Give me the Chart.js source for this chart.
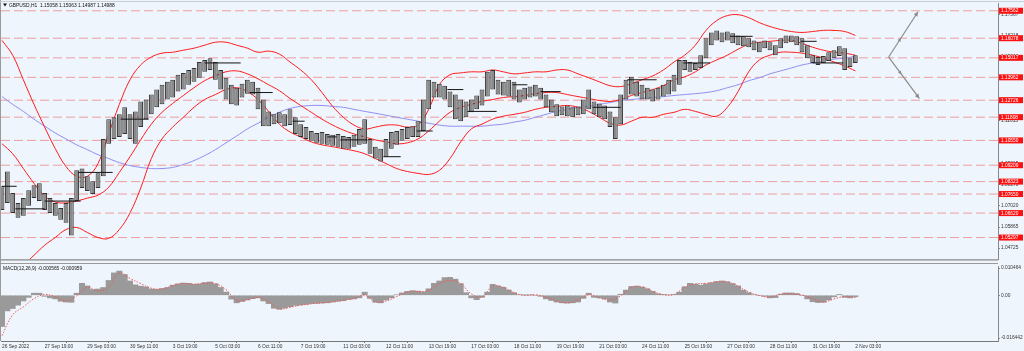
<!DOCTYPE html>
<html>
<head>
<meta charset="utf-8">
<script src="https://cdn.jsdelivr.net/npm/chart.js@4.4.1/dist/chart.umd.min.js"></script>
<style>
  html, body { margin: 0; padding: 0; background: #eff5fc; }
  #wrap { position: relative; width: 1024px; height: 351px; overflow: hidden; background: #eff5fc; }
  #priceBox { position: absolute; left: 0; top: 0; width: 1024px; height: 263px; }
  #macdBox { position: absolute; left: 0; top: 263px; width: 1024px; height: 88px; }
</style>
</head>
<body>
<div id="wrap">
  <div id="priceBox"><canvas id="price"></canvas></div>
  <div id="macdBox"><canvas id="macd"></canvas></div>
</div>
<script>
// GBPUSD H1, 26 Sep - 2 Nov 2022. x values are hourly bar numbers (weekends skipped)
const BG = '#eff5fc';
const FONT = "'Liberation Sans', Arial, sans-serif";
const X_MIN = -0.75, X_MAX = 747;
const CANDLE_STEP = 4;   // one drawn candle = 4 hourly bars
const LINE_STEP = 8;     // indicator lines read every 8 bars

const timeTicks = [0, 32, 64, 96, 128, 160, 192, 224, 256, 288, 320, 352, 384, 416, 448, 480, 512, 544, 576, 608, 640];
const timeLabels = ['26 Sep 2022', '27 Sep 19:00', '29 Sep 03:00', '30 Sep 11:00', '3 Oct 19:00', '5 Oct 03:00',
  '6 Oct 11:00', '7 Oct 19:00', '11 Oct 03:00', '12 Oct 11:00', '13 Oct 19:00', '17 Oct 03:00', '18 Oct 11:00',
  '19 Oct 19:00', '21 Oct 03:00', '24 Oct 11:00', '25 Oct 19:00', '27 Oct 03:00', '28 Oct 11:00', '31 Oct 19:00', '2 Nov 03:00'];

const priceTicks = [1.04725, 1.05865, 1.07020, 1.08170, 1.09315, 1.10460, 1.11615, 1.12765, 1.13910, 1.15060, 1.16218, 1.17367];
const levels = [1.17562, 1.16078, 1.15017, 1.13962, 1.12726, 1.11808, 1.10550, 1.09209, 1.08323, 1.07650, 1.06620, 1.05297];

const candleHigh = [
  1.0807, 1.0887, 1.0770, 1.0717, 1.0743, 1.0786, 1.0813, 1.0823, 1.0770, 1.0743,
  1.0717, 1.0690, 1.0717, 1.0743, 1.0893, 1.0903, 1.0861, 1.0834, 1.0877, 1.1063,
  1.1170, 1.1180, 1.1196, 1.1234, 1.1196, 1.1212, 1.1266, 1.1276, 1.1303, 1.1330,
  1.1356, 1.1372, 1.1383, 1.1410, 1.1420, 1.1436, 1.1447, 1.1479, 1.1490, 1.1500,
  1.1479, 1.1436, 1.1394, 1.1356, 1.1340, 1.1362, 1.1383, 1.1372, 1.1340, 1.1276,
  1.1212, 1.1196, 1.1207, 1.1196, 1.1223, 1.1180, 1.1143, 1.1127, 1.1106, 1.1095,
  1.1101, 1.1090, 1.1085, 1.1090, 1.1079, 1.1074, 1.1085, 1.1117, 1.1170, 1.1063,
  1.1021, 1.1010, 1.1063, 1.1101, 1.1106, 1.1117, 1.1127, 1.1132, 1.1159, 1.1276,
  1.1383, 1.1372, 1.1362, 1.1351, 1.1319, 1.1303, 1.1276, 1.1266, 1.1276, 1.1298,
  1.1330, 1.1426, 1.1436, 1.1383, 1.1372, 1.1383, 1.1372, 1.1330, 1.1340, 1.1346,
  1.1356, 1.1340, 1.1303, 1.1276, 1.1250, 1.1239, 1.1244, 1.1234, 1.1239, 1.1276,
  1.1330, 1.1266, 1.1255, 1.1244, 1.1212, 1.1180, 1.1303, 1.1383, 1.1399, 1.1372,
  1.1356, 1.1340, 1.1330, 1.1340, 1.1356, 1.1383, 1.1410, 1.1490, 1.1490, 1.1479,
  1.1474, 1.1516, 1.1607, 1.1639, 1.1650, 1.1639, 1.1644, 1.1634, 1.1623, 1.1618,
  1.1607, 1.1596, 1.1586, 1.1596, 1.1586, 1.1570, 1.1607, 1.1623, 1.1623, 1.1618,
  1.1607, 1.1570, 1.1516, 1.1506, 1.1511, 1.1532, 1.1543, 1.1564, 1.1554, 1.1500, 1.1516
];
const candleLow = [
  1.0679, 1.0717, 1.0663, 1.0637, 1.0647, 1.0701, 1.0743, 1.0727, 1.0679, 1.0663,
  1.0647, 1.0626, 1.0610, 1.0541, 1.0727, 1.0797, 1.0781, 1.0765, 1.0797, 1.0861,
  1.1037, 1.1063, 1.1074, 1.1090, 1.1063, 1.1037, 1.1127, 1.1170, 1.1196, 1.1234,
  1.1250, 1.1276, 1.1287, 1.1319, 1.1330, 1.1356, 1.1372, 1.1394, 1.1426, 1.1436,
  1.1383, 1.1330, 1.1276, 1.1250, 1.1244, 1.1287, 1.1308, 1.1303, 1.1223, 1.1132,
  1.1132, 1.1143, 1.1148, 1.1132, 1.1138, 1.1090, 1.1074, 1.1063, 1.1053, 1.1042,
  1.1037, 1.1031, 1.1026, 1.1021, 1.1010, 1.1010, 1.1021, 1.1031, 1.1037, 1.0983,
  1.0957, 1.0941, 1.0967, 1.1010, 1.1031, 1.1053, 1.1063, 1.1074, 1.1074, 1.1106,
  1.1223, 1.1287, 1.1287, 1.1276, 1.1234, 1.1170, 1.1159, 1.1180, 1.1207, 1.1223,
  1.1244, 1.1292, 1.1330, 1.1303, 1.1298, 1.1292, 1.1276, 1.1260, 1.1276, 1.1287,
  1.1292, 1.1276, 1.1234, 1.1207, 1.1186, 1.1191, 1.1186, 1.1180, 1.1191, 1.1196,
  1.1223, 1.1196, 1.1180, 1.1170, 1.1127, 1.1063, 1.1143, 1.1276, 1.1303, 1.1292,
  1.1276, 1.1276, 1.1266, 1.1276, 1.1292, 1.1303, 1.1319, 1.1356, 1.1436, 1.1426,
  1.1436, 1.1447, 1.1500, 1.1570, 1.1596, 1.1586, 1.1596, 1.1580, 1.1570, 1.1564,
  1.1559, 1.1543, 1.1532, 1.1554, 1.1543, 1.1516, 1.1554, 1.1580, 1.1586, 1.1570,
  1.1532, 1.1500, 1.1474, 1.1463, 1.1474, 1.1484, 1.1500, 1.1511, 1.1436, 1.1452, 1.1474
];

const bbUpper = [
  1.1596, 1.1516, 1.1383, 1.1250, 1.1127, 1.1010, 1.0914, 1.0861, 1.0861, 1.0930,
  1.1090, 1.1250, 1.1383, 1.1463, 1.1506, 1.1527, 1.1532, 1.1543, 1.1554, 1.1570,
  1.1586, 1.1586, 1.1570, 1.1554, 1.1532, 1.1538, 1.1522, 1.1479, 1.1436, 1.1383,
  1.1314, 1.1239, 1.1180, 1.1138, 1.1117, 1.1127, 1.1138, 1.1138, 1.1127, 1.1138,
  1.1223, 1.1356, 1.1410, 1.1420, 1.1426, 1.1426, 1.1436, 1.1426, 1.1415, 1.1420,
  1.1426, 1.1426, 1.1436, 1.1436, 1.1415, 1.1394, 1.1372, 1.1351, 1.1346, 1.1362,
  1.1383, 1.1404, 1.1436, 1.1479, 1.1516, 1.1570, 1.1650, 1.1703, 1.1730, 1.1735,
  1.1719, 1.1692, 1.1671, 1.1655, 1.1644, 1.1639, 1.1644, 1.1650, 1.1650, 1.1644,
  1.1623
];
const bbMiddle = [
  1.1037, 1.0983, 1.0903, 1.0823, 1.0754, 1.0722, 1.0717, 1.0727, 1.0743, 1.0759,
  1.0802, 1.0882, 1.0967, 1.1058, 1.1143, 1.1207, 1.1255, 1.1298, 1.1340, 1.1378,
  1.1404, 1.1426, 1.1431, 1.1415, 1.1388, 1.1356, 1.1324, 1.1282, 1.1244, 1.1207,
  1.1170, 1.1138, 1.1111, 1.1090, 1.1074, 1.1058, 1.1047, 1.1037, 1.1042, 1.1063,
  1.1106, 1.1159, 1.1207, 1.1234, 1.1250, 1.1266, 1.1276, 1.1287, 1.1292, 1.1298,
  1.1308, 1.1314, 1.1314, 1.1303, 1.1292, 1.1282, 1.1271, 1.1266, 1.1276, 1.1298,
  1.1314, 1.1330, 1.1351, 1.1383, 1.1399, 1.1426, 1.1463, 1.1490, 1.1516, 1.1548,
  1.1575, 1.1586, 1.1591, 1.1596, 1.1596, 1.1580, 1.1559, 1.1543, 1.1532, 1.1527,
  1.1516
];
const bbLower = [
  1.0317, 1.0344, 1.0381, 1.0434, 1.0488, 1.0530, 1.0573, 1.0584, 1.0557, 1.0530,
  1.0525, 1.0573, 1.0663, 1.0797, 1.0957, 1.1063, 1.1127, 1.1180, 1.1234, 1.1276,
  1.1303, 1.1330, 1.1340, 1.1319, 1.1276, 1.1212, 1.1143, 1.1101, 1.1074, 1.1047,
  1.1031, 1.1021, 1.1010, 1.0999, 1.0983, 1.0957, 1.0930, 1.0903, 1.0887, 1.0877,
  1.0871, 1.0893, 1.0957, 1.1047, 1.1117, 1.1143, 1.1170, 1.1186, 1.1196, 1.1207,
  1.1223, 1.1234, 1.1239, 1.1244, 1.1234, 1.1212, 1.1180, 1.1148, 1.1138, 1.1159,
  1.1180, 1.1180, 1.1196, 1.1207, 1.1223, 1.1212, 1.1196, 1.1186, 1.1234, 1.1319,
  1.1426, 1.1490, 1.1516, 1.1532, 1.1532, 1.1527, 1.1516, 1.1500, 1.1479, 1.1458,
  1.1431
];
const maSlow = [
  1.1292, 1.1250, 1.1212, 1.1170, 1.1132, 1.1095, 1.1063, 1.1031, 1.1005, 1.0978,
  1.0957, 1.0935, 1.0919, 1.0909, 1.0903, 1.0903, 1.0909, 1.0925, 1.0946, 1.0973,
  1.1005, 1.1042, 1.1079, 1.1117, 1.1148, 1.1180, 1.1207, 1.1228, 1.1239, 1.1244,
  1.1244, 1.1239, 1.1234, 1.1223, 1.1212, 1.1202, 1.1191, 1.1180, 1.1170, 1.1159,
  1.1148, 1.1138, 1.1132, 1.1132, 1.1132, 1.1132, 1.1138, 1.1143, 1.1154, 1.1164,
  1.1180, 1.1196, 1.1212, 1.1223, 1.1234, 1.1239, 1.1250, 1.1260, 1.1271, 1.1276,
  1.1282, 1.1287, 1.1292, 1.1298, 1.1303, 1.1308, 1.1314, 1.1324, 1.1340, 1.1356,
  1.1378, 1.1394, 1.1415, 1.1431, 1.1447, 1.1463, 1.1474, 1.1484, 1.1495, 1.1500,
  1.1511
];

// short black daily segments: start bar, end bar, price
const segStart = [0, 10, 32, 57, 89, 152, 186, 218, 244, 254, 286, 311, 334, 349, 383, 404, 443, 469, 511, 546, 599, 608];
const segEnd   = [11, 32, 59, 83, 110, 179, 203, 227, 251, 274, 299, 323, 346, 371, 394, 419, 464, 491, 531, 563, 611, 631];
const segPrice = [1.0807, 1.0685, 1.0727, 1.0882, 1.1170, 1.1474, 1.1314, 1.1159, 1.1074, 1.1058, 1.0967, 1.1106,
  1.1330, 1.1212, 1.1356, 1.1319, 1.1234, 1.1383, 1.1474, 1.1618, 1.1591, 1.1474];

// projection arrows drawn at the right: [bar, price]
const arrowFrom = [665, 1.1506];
const arrowUpTo = [687, 1.1751];
const arrowDownTo = [688, 1.1282];

const macdHist = [
  -0.0120, -0.0060, -0.0051, -0.0038, -0.0022, -0.0008, 0.0008, 0.0008, -0.0004, -0.0010,
  -0.0014, -0.0023, -0.0026, -0.0027, 0.0008, 0.0046, 0.0036, 0.0022, 0.0024, 0.0030,
  0.0057, 0.0086, 0.0093, 0.0080, 0.0055, 0.0040, 0.0035, 0.0032, 0.0024, 0.0023,
  0.0026, 0.0030, 0.0039, 0.0044, 0.0047, 0.0046, 0.0042, 0.0043, 0.0049, 0.0051,
  0.0044, 0.0030, 0.0012, -0.0015, -0.0029, -0.0024, -0.0018, -0.0013, -0.0010, -0.0022,
  -0.0032, -0.0050, -0.0054, -0.0049, -0.0044, -0.0039, -0.0037, -0.0035, -0.0032, -0.0031,
  -0.0030, -0.0029, -0.0026, -0.0023, -0.0021, -0.0016, -0.0014, -0.0010, 0.0012, -0.0012,
  -0.0027, -0.0029, -0.0018, -0.0010, 0.0002, 0.0009, 0.0015, 0.0018, 0.0016, 0.0013,
  0.0025, 0.0046, 0.0055, 0.0068, 0.0069, 0.0062, 0.0045, 0.0010, -0.0010, -0.0017,
  -0.0008, 0.0012, 0.0042, 0.0036, 0.0031, 0.0020, 0.0010, 0.0002, 0.0001, 0.0001,
  0.0000, -0.0004, -0.0014, -0.0020, -0.0026, -0.0029, -0.0030, -0.0029, -0.0026, -0.0012,
  0.0008, -0.0008, -0.0010, -0.0014, -0.0026, -0.0030, 0.0004, 0.0020, 0.0034, 0.0035,
  0.0031, 0.0025, 0.0015, 0.0006, 0.0003, 0.0002, 0.0003, 0.0012, 0.0033, 0.0046,
  0.0043, 0.0039, 0.0044, 0.0048, 0.0053, 0.0055, 0.0052, 0.0045, 0.0036, 0.0020,
  0.0010, 0.0002, 0.0000, -0.0004, -0.0010, -0.0009, 0.0004, 0.0009, 0.0009, 0.0007,
  0.0000, -0.0014, -0.0025, -0.0028, -0.0027, -0.0018, -0.0006, 0.0003, -0.0008, -0.0010, -0.0006
];
const macdSignal = [
  -0.0155, -0.0075, -0.0045, -0.0013, 0.0003, -0.0005, -0.0022, -0.0002, 0.0030, 0.0017,
  0.0030, 0.0086, 0.0065, 0.0045, 0.0027, 0.0024, 0.0037, 0.0045, 0.0043, 0.0046,
  0.0045, 0.0022, -0.0020, -0.0017, -0.0008, -0.0025, -0.0052, -0.0046, -0.0038, -0.0033,
  -0.0029, -0.0025, -0.0019, -0.0012, 0.0000, -0.0025, -0.0022, -0.0005, 0.0012, 0.0014,
  0.0018, 0.0045, 0.0057, 0.0045, 0.0005, -0.0006, 0.0035, 0.0030, 0.0010, -0.0001,
  0.0002, -0.0007, -0.0022, -0.0029, -0.0018, 0.0002, -0.0010, -0.0018, -0.0002, 0.0030,
  0.0033, 0.0015, 0.0002, 0.0003, 0.0030, 0.0043, 0.0046, 0.0051, 0.0051, 0.0035,
  0.0012, -0.0001, -0.0007, 0.0005, 0.0005, 0.0001, -0.0012, -0.0026, -0.0014, -0.0005,
  -0.0009
];
const macdTicks = [0.010464, 0, -0.016442];
const macdTickLabels = ['0.010464', '0.00', '-0.016442'];

const headerText = 'GBPUSD,H1  1.15058 1.15063 1.14987 1.14988';
const macdText = 'MACD(12,26,9) -0.000565 -0.000959';

// ---- helpers ----
const linePoints = arr => arr.map((v, i) => ({ x: i * LINE_STEP, y: v }));

const segPoints = [];
segStart.forEach((s, i) => {
    segPoints.push({ x: s, y: segPrice[i] }, { x: segEnd[i], y: segPrice[i] }, { x: segEnd[i], y: null });
});

const bgPlugin = {
    id: 'bg',
    beforeDraw(chart) {
        const ctx = chart.ctx;
        ctx.save();
        ctx.fillStyle = BG;
        ctx.fillRect(0, 0, chart.width, chart.height);
        ctx.restore();
    }
};

function arrowHead(ctx, x, y, ang, size) {
    ctx.beginPath();
    ctx.moveTo(x, y);
    ctx.lineTo(x - size * Math.cos(ang - 0.45), y - size * Math.sin(ang - 0.45));
    ctx.lineTo(x - size * Math.cos(ang + 0.45), y - size * Math.sin(ang + 0.45));
    ctx.closePath();
    ctx.fill();
}

const priceDecor = {
    id: 'priceDecor',
    afterDatasetsDraw(chart) {
        const { ctx, scales: { x, y } } = chart;
        ctx.save();
        ctx.strokeStyle = '#8c8c8c';
        ctx.fillStyle = '#8c8c8c';
        ctx.lineWidth = 1.2;
        const x0 = x.getPixelForValue(arrowFrom[0]), y0 = y.getPixelForValue(arrowFrom[1]);
        [arrowUpTo, arrowDownTo].forEach(t => {
            const x1 = x.getPixelForValue(t[0]), y1 = y.getPixelForValue(t[1]);
            ctx.beginPath();
            ctx.moveTo(x0, y0);
            ctx.lineTo(x1, y1);
            ctx.stroke();
            const ang = Math.atan2(y1 - y0, x1 - x0);
            arrowHead(ctx, x1, y1, ang, 5);
            arrowHead(ctx, x0 + (x1 - x0) * 0.42, y0 + (y1 - y0) * 0.42, ang, 4);
        });
        ctx.restore();
    },
    afterDraw(chart) {
        const { ctx, chartArea: a, scales: { y } } = chart;
        ctx.save();
        // red level labels on the price axis
        ctx.font = '4.8px ' + FONT;
        ctx.textBaseline = 'middle';
        levels.forEach(v => {
            const py = y.getPixelForValue(v);
            ctx.fillStyle = '#ff1010';
            ctx.fillRect(a.right + 1, py - 3, 24, 6);
            ctx.fillStyle = '#ffffff';
            ctx.fillText(v.toFixed(5), a.right + 3, py + 0.3);
        });
        // frame
        ctx.fillStyle = '#9a9a9a';
        ctx.fillRect(0, a.bottom, a.right, 1.5);
        ctx.fillRect(0, 0, 1, chart.height);
        ctx.fillStyle = '#c9ced6';
        ctx.fillRect(0, 1, chart.width, 1);
        // header
        ctx.fillStyle = '#111';
        ctx.beginPath();
        ctx.moveTo(3, 3.5); ctx.lineTo(7, 3.5); ctx.lineTo(5, 6.5); ctx.closePath();
        ctx.fill();
        ctx.font = '4.9px ' + FONT;
        ctx.fillText(headerText, 9, 5.5);
        ctx.restore();
    }
};

const macdDecor = {
    id: 'macdDecor',
    afterDraw(chart) {
        const { ctx, chartArea: a } = chart;
        ctx.save();
        ctx.fillStyle = '#9a9a9a';
        ctx.fillRect(0, 0, a.right, 1);
        ctx.fillRect(0, 0, 1, a.bottom);
        ctx.fillStyle = '#111';
        ctx.font = '4.8px ' + FONT;
        ctx.textBaseline = 'middle';
        ctx.fillText(macdText, 3, 5.5);
        ctx.restore();
    }
};

const tickFont = { size: 4.8, family: FONT };

// ---- price panel ----
const levelSets = levels.map(v => ({
    type: 'line',
    data: [{ x: X_MIN, y: v }, { x: X_MAX, y: v }],
    borderColor: 'rgba(236,100,100,0.6)',
    borderWidth: 1,
    borderDash: [9, 4],
    pointRadius: 0,
    order: 10
}));

const bandStyle = { type: 'line', borderColor: '#ff1c1c', borderWidth: 1, pointRadius: 0, tension: 0.4, order: 5 };

new Chart(document.getElementById('price'), {
    type: 'bar',
    data: {
        datasets: [
            ...levelSets,
            { ...bandStyle, data: linePoints(bbUpper) },
            { ...bandStyle, data: linePoints(bbMiddle) },
            { ...bandStyle, data: linePoints(bbLower) },
            { type: 'line', data: linePoints(maSlow), borderColor: '#8e8ef2', borderWidth: 1, pointRadius: 0, tension: 0.4, order: 6 },
            {
                type: 'bar',
                data: candleHigh.map((h, i) => ({ x: i * CANDLE_STEP, y: [candleLow[i], h] })),
                backgroundColor: '#8a8a8a',
                borderColor: '#333333',
                borderWidth: 1,
                borderSkipped: false,
                barPercentage: 0.9,
                categoryPercentage: 1,
                order: 3
            },
            { type: 'line', data: segPoints, borderColor: '#141414', borderWidth: 1, pointRadius: 0, spanGaps: false, order: 1 }
        ]
    },
    options: {
        responsive: true,
        maintainAspectRatio: false,
        animation: false,
        layout: { padding: { left: 1, top: 3, right: 0, bottom: 1 } },
        plugins: { legend: { display: false }, tooltip: { enabled: false } },
        scales: {
            x: { type: 'linear', min: X_MIN, max: X_MAX, offset: false, display: false },
            y: {
                type: 'linear',
                position: 'right',
                min: 1.0413,
                max: 1.17935,
                afterBuildTicks: ax => { ax.ticks = priceTicks.map(v => ({ value: v })); },
                afterFit: ax => { ax.width = 26; },
                ticks: { callback: v => v.toFixed(5), font: tickFont, color: '#333', padding: 1 },
                grid: { drawOnChartArea: false, tickLength: 2, color: '#888' },
                border: { color: '#888' }
            }
        }
    },
    plugins: [bgPlugin, priceDecor]
});

// ---- MACD panel ----
new Chart(document.getElementById('macd'), {
    type: 'bar',
    data: {
        datasets: [
            {
                type: 'line',
                data: linePoints(macdSignal),
                borderColor: '#f05a5a',
                borderWidth: 1,
                borderDash: [1.5, 1.5],
                pointRadius: 0,
                tension: 0.4,
                order: 1
            },
            {
                type: 'bar',
                data: macdHist.map((v, i) => ({ x: i * CANDLE_STEP, y: v })),
                backgroundColor: '#9a9a9a',
                barPercentage: 1,
                categoryPercentage: 1,
                order: 2
            }
        ]
    },
    options: {
        responsive: true,
        maintainAspectRatio: false,
        animation: false,
        layout: { padding: { left: 1, top: 1, right: 0, bottom: 0 } },
        plugins: { legend: { display: false }, tooltip: { enabled: false } },
        scales: {
            x: {
                type: 'linear',
                min: X_MIN,
                max: X_MAX,
                offset: false,
                afterBuildTicks: ax => { ax.ticks = timeTicks.map(v => ({ value: v })); },
                afterFit: ax => { ax.height = 10; },
                ticks: {
                    callback: (v, i) => timeLabels[i],
                    autoSkip: false,
                    maxRotation: 0,
                    align: 'start',
                    padding: 1,
                    font: tickFont,
                    color: '#333'
                },
                grid: { drawOnChartArea: false, tickLength: 2, color: '#777' },
                border: { color: '#777' }
            },
            y: {
                type: 'linear',
                position: 'right',
                min: -0.017575,
                max: 0.010915,
                afterBuildTicks: ax => { ax.ticks = macdTicks.map(v => ({ value: v })); },
                afterFit: ax => { ax.width = 26; },
                ticks: { callback: (v, i) => macdTickLabels[i], font: tickFont, color: '#333', padding: 1 },
                grid: { drawOnChartArea: false, tickLength: 2, color: '#888' },
                border: { color: '#888' }
            }
        }
    },
    plugins: [bgPlugin, macdDecor]
});
</script>
</body>
</html>
